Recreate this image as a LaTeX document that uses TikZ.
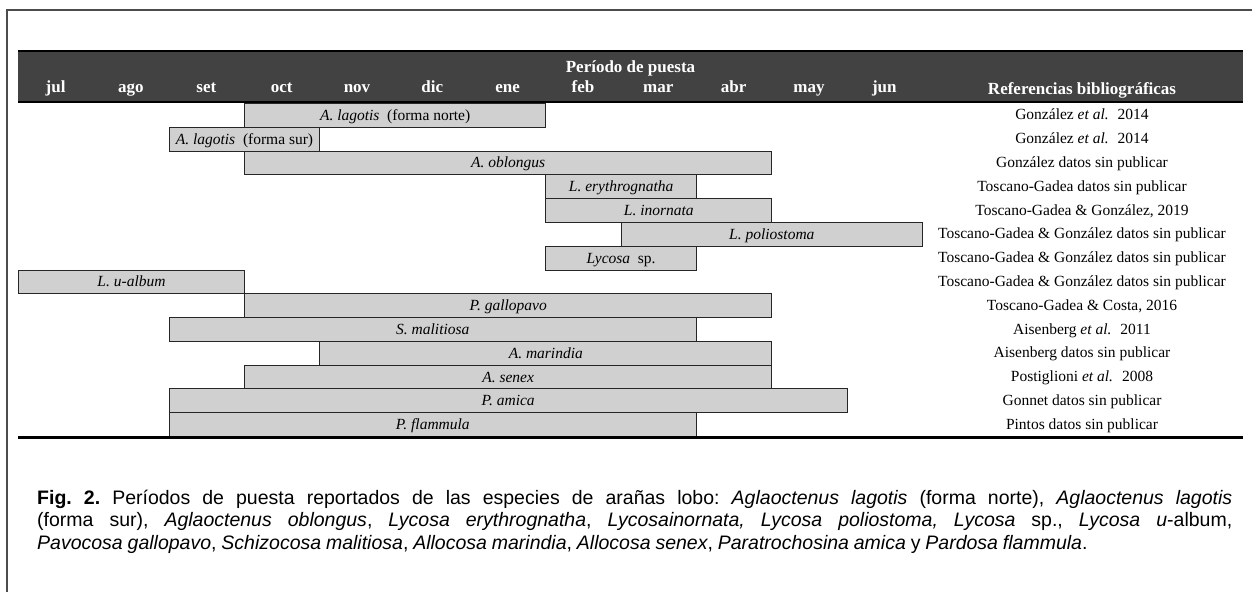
\documentclass[tikz,border=0pt]{standalone}
\usepackage{fontspec}
\setmainfont{Liberation Serif}
\newfontfamily\capfont{Liberation Sans}
\usepackage{tikz}
\usetikzlibrary{positioning}
\definecolor{headgray}{HTML}{424242}
\definecolor{bargray}{HTML}{D0D0D0}
\tikzset{
	month/.style={text=white, anchor=base, inner sep=0pt,
		font=\fontsize{17}{20}\selectfont\bfseries},
	bar/.style={draw=black!85, fill=bargray, line width=1pt, anchor=north west,
		inner sep=0pt, minimum height=23.8pt, text height=10.5pt, text depth=0.5pt,
		font=\fontsize{15.5}{18}\selectfont},
	refer/.style={inner sep=0pt, text height=10.5pt, text depth=0.5pt,
		font=\fontsize{15.5}{18}\selectfont},
}

\begin{document}
\begin{tikzpicture}[x=1pt,y=-1pt]
\useasboundingbox (0,0) rectangle (1252,592);

% the frame
\draw[black!70, line width=1.2pt] (7,592) -- (7,10) -- (1252,10);

% the header
\fill[headgray] (18,50) rectangle (1243,103);
\draw[line width=2.5pt] (18,51) -- (1243,51);
\draw[line width=2.5pt] (18,102) -- (1243,102);
\node[month] (title) at (630.5,72) {Período de puesta};
\foreach \mname [count=\i from 0] in {jul,ago,set,oct,nov,dic,ene,feb,mar,abr,may,jun}
	\node[month] (m\i) at ({18+75.33*(\i+0.5)},92.5) {\mname};
\node[month] (refhead) at (1082,94) {Referencias bibliográficas};

% the bars and the references
\foreach \ms/\me/\spc/\src [count=\r] in {
	3/7/{\textit{A. lagotis} \ (forma norte)}/{González \textit{et al.} \ 2014},
	2/4/{\textit{A. lagotis} \ (forma sur)}/{González \textit{et al.} \ 2014},
	3/10/{\textit{A. oblongus}}/{González datos sin publicar},
	7/9/{\textit{L. erythrognatha}}/{Toscano-Gadea datos sin publicar},
	7/10/{\textit{L. inornata}}/{Toscano-Gadea \& González, 2019},
	8/12/{\textit{L. poliostoma}}/{Toscano-Gadea \& González datos sin publicar},
	7/9/{\textit{Lycosa} \ sp.}/{Toscano-Gadea \& González datos sin publicar},
	0/3/{\textit{L. u-album}}/{Toscano-Gadea \& González datos sin publicar},
	3/10/{\textit{P. gallopavo}}/{Toscano-Gadea \& Costa, 2016},
	2/9/{\textit{S. malitiosa}}/{Aisenberg \textit{et al.} \ 2011},
	4/10/{\textit{A. marindia}}/{Aisenberg datos sin publicar},
	3/10/{\textit{A. senex}}/{Postiglioni \textit{et al.} \ 2008},
	2/11/{\textit{P. amica}}/{Gonnet datos sin publicar},
	2/9/{\textit{P. flammula}}/{Pintos datos sin publicar}}
{
	\pgfmathsetmacro\w{(\me-\ms)*75.33}
	\node[bar, minimum width=\w pt] (b\r) at ({18+75.33*\ms},{103+23.79*(\r-1)}) {\spc};
	\node[refer] (ref\r) at (1082,{103+23.79*(\r-0.5)}) {\src};
}

\draw[line width=3pt] (18,437.5) -- (1243,437.5);

% the caption
\node[anchor=base west, inner sep=0pt, text width=1195pt, align=justify,
	font=\capfont\fontsize{19.5}{22.5}\selectfont] (cap) at (37,504)
{\frenchspacing\spaceskip=0.25em plus 0.3em minus 0.12em
\textbf{Fig. 2.} Períodos de puesta reportados de las especies de arañas lobo: \textit{Aglaoctenus lagotis} (forma norte), \textit{Aglaoctenus lagotis}\linebreak
(forma sur), \textit{Aglaoctenus oblongus}, \textit{Lycosa erythrognatha}, \textit{Lycosainornata, Lycosa poliostoma, Lycosa} sp., \textit{Lycosa u}-album,\linebreak
\textit{Pavocosa gallopavo}, \textit{Schizocosa malitiosa}, \textit{Allocosa marindia}, \textit{Allocosa senex}, \textit{Paratrochosina amica} y \textit{Pardosa flammula}.};

\end{tikzpicture}
\end{document}
